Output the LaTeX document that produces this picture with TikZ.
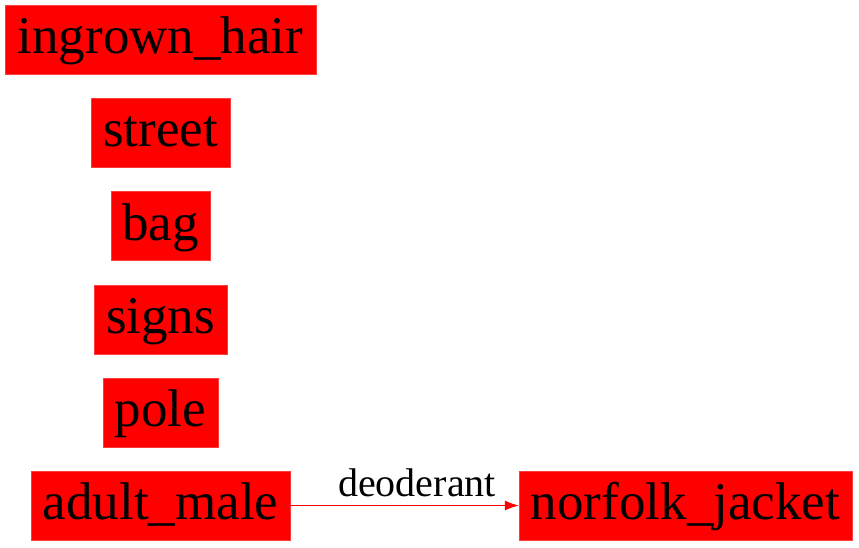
\documentclass[tikz,border=0pt]{standalone}
\usepackage{fontspec}
\setmainfont{Liberation Serif}
\usetikzlibrary{arrows.meta}

\begin{document}
\begin{tikzpicture}[x=1pt,y=1pt,yscale=-1,xscale=1]
\useasboundingbox (0,0) rectangle (859,547); %set diagram size as the reference

\tikzset{thing/.style={draw={rgb,255:red,255;green,60;blue,60},fill={rgb,255:red,255;green,0;blue,0},inner sep=0pt,minimum height=69pt,text height=40pt,text depth=12pt,font=\fontsize{53}{58}\selectfont}}

% Text Node
\node [thing,minimum width=311pt] (ingrown) at (160.5,39.5) {ingrown\_hair};
% Text Node
\node [thing,minimum width=139pt] (street) at (160.5,132.5) {street};
% Text Node
\node [thing,minimum width=99pt] (bag) at (160.5,226) {bag};
% Text Node
\node [thing,minimum width=133pt] (signs) at (160.5,319.5) {signs};
% Text Node
\node [thing,minimum width=115pt] (pole) at (160.5,412.5) {pole};
% Text Node
\node [thing,minimum width=259pt] (adultmale) at (160.5,505.5) {adult\_male};
% Text Node
\node [thing,minimum width=333pt] (jacket) at (685.5,505.5) {norfolk\_jacket};

%Straight Lines
\draw [color={rgb,255:red,255;green,0;blue,0},line width=1pt,-{Latex[length=14pt,width=10pt]}] (adultmale.east) -- (jacket.west) node [pos=0.555,above=8pt,inner sep=0pt,text=black,font=\fontsize{40}{44}\selectfont] (deo) {deoderant};

\end{tikzpicture}
\end{document}
